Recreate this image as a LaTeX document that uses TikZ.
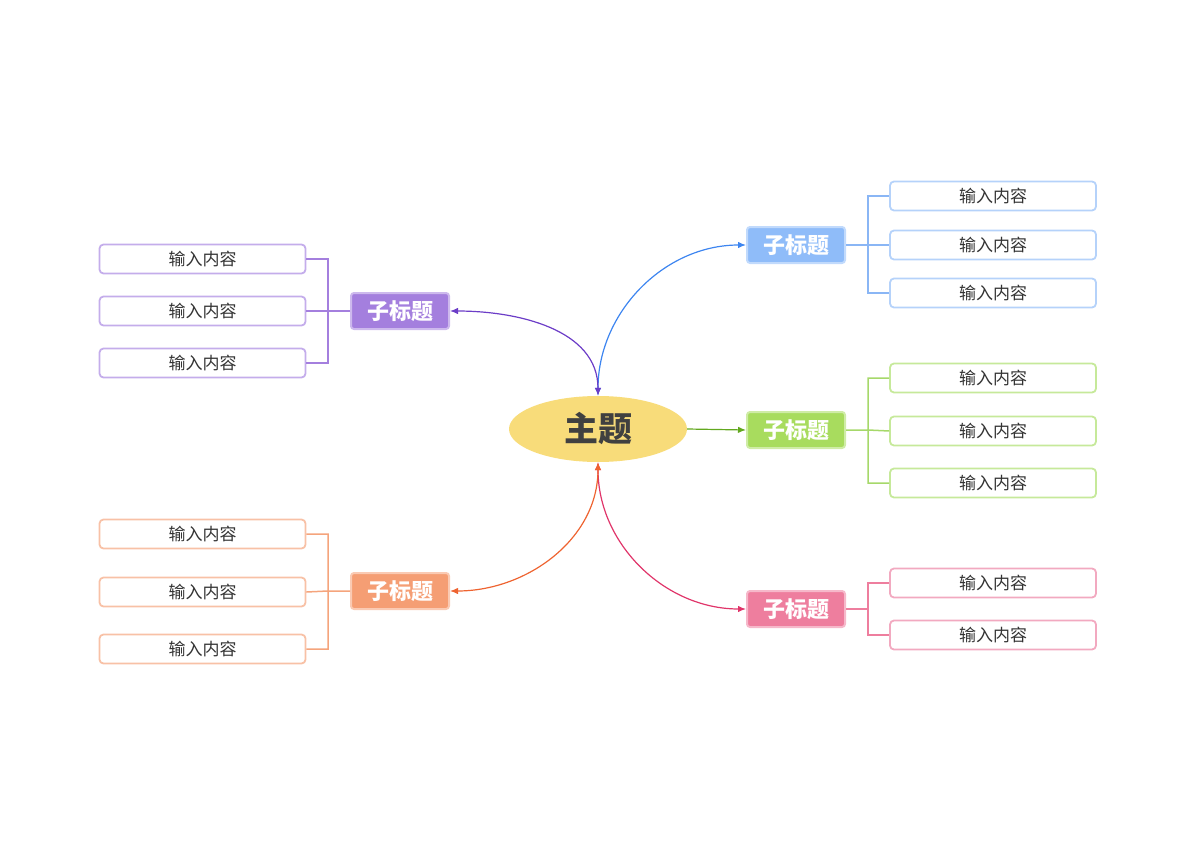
\documentclass[tikz,border=0pt]{standalone}
\usepackage{fontspec}
\setmainfont{Noto Sans CJK SC}
\usetikzlibrary{shapes.geometric,arrows.meta}
\definecolor{bF}{HTML}{8FBCF9}\definecolor{bA}{HTML}{3D85F0}\definecolor{bL}{HTML}{B5D2FA}\definecolor{bB}{HTML}{8AB6F5}
\definecolor{gF}{HTML}{A8DC5E}\definecolor{gA}{HTML}{62A81F}\definecolor{gL}{HTML}{C6E99A}\definecolor{gB}{HTML}{A6D86A}
\definecolor{pF}{HTML}{EE7E9E}\definecolor{pA}{HTML}{E0356A}\definecolor{pL}{HTML}{F2A9C0}\definecolor{pB}{HTML}{EE7E9E}
\definecolor{uF}{HTML}{A47FDE}\definecolor{uA}{HTML}{6C3DC7}\definecolor{uL}{HTML}{C4ADEB}\definecolor{uB}{HTML}{A47FDE}
\definecolor{oF}{HTML}{F59E74}\definecolor{oA}{HTML}{EE6330}\definecolor{oL}{HTML}{F8C1A6}\definecolor{oB}{HTML}{F5A47C}
\definecolor{mainF}{HTML}{F8DC7A}
\tikzset{
 sub/.style={draw=#1!55!white,fill=#1,line width=2pt,rounded corners=3pt,minimum width=98pt,minimum height=36pt,text=white,font=\fontsize{22}{22}\selectfont\bfseries,inner sep=0pt},
 leaf/.style={draw=#1,fill=white,line width=1.8pt,rounded corners=4pt,minimum width=206pt,minimum height=29pt,text=black!80,font=\fontsize{17}{17}\selectfont,inner sep=0pt},
 br/.style={draw=#1,line width=1.5pt},
 tip/.style={{Latex[length=8pt,width=6.5pt]}},
 con/.style={draw=#1,line width=1.2pt}
}
\begin{document}
\begin{tikzpicture}[x=1pt,y=-1pt]
\useasboundingbox (0,0) rectangle (1200,848);
\node[ellipse,fill=mainF,minimum width=178pt,minimum height=66pt,inner sep=0pt,text=black!75,font=\fontsize{34}{34}\selectfont\bfseries] (m) at (598,429) {主题};
\node[sub=bF] (b) at (796,245) {子标题};
\node[sub=gF] (g) at (796,430) {子标题};
\node[sub=pF] (p) at (796,609) {子标题};
\node[sub=uF] (u) at (400,311) {子标题};
\node[sub=oF] (o) at (400,591) {子标题};
\foreach \n/\y in {1/196,2/245,3/293}{\node[leaf=bL] (b\n) at (993,\y) {输入内容};}
\foreach \n/\y in {1/378,2/431,3/483}{\node[leaf=gL] (g\n) at (993,\y) {输入内容};}
\foreach \n/\y in {1/583,2/635}{\node[leaf=pL] (p\n) at (993,\y) {输入内容};}
\foreach \n/\y in {1/259,2/311,3/363}{\node[leaf=uL] (u\n) at (202.5,\y) {输入内容};}
\foreach \n/\y in {1/534,2/592,3/649}{\node[leaf=oL] (o\n) at (202.5,\y) {输入内容};}
% brackets
\draw[br=bB] (b.east) -- (868,245) (b1.west) -| (868,293) -- (b3.west) (868,245) -- (b2.west);
\draw[br=gB] (g.east) -- (868,430) (g1.west) -| (868,483) -- (g3.west) (868,430) -- (g2.west);
\draw[br=pB] (p.east) -- (868,609) (p1.west) -| (868,635) -- (p2.west);
\draw[br=uB] (u.west) -- (328,311) (u1.east) -| (328,363) -- (u3.east) (328,311) -- (u2.east);
\draw[br=oB] (o.west) -- (328,591) (o1.east) -| (328,649) -- (o3.east) (328,591) -- (o2.east);
% connectors
\draw[con=bA,{Latex[length=8pt,width=6.5pt]}-{Latex[length=8pt,width=6.5pt]}] (m.north) to[out=90,in=180] (b.west);
\draw[con=gA,-{Latex[length=8pt,width=6.5pt]}] (m.east) -- (g.west);
\draw[con=pA,{Latex[length=8pt,width=6.5pt]}-{Latex[length=8pt,width=6.5pt]}] (m.south) to[out=-90,in=180] (p.west);
\draw[con=uA,{Latex[length=8pt,width=6.5pt]}-{Latex[length=8pt,width=6.5pt]}] (m.north) to[out=90,in=0] (u.east);
\draw[con=oA,{Latex[length=8pt,width=6.5pt]}-{Latex[length=8pt,width=6.5pt]}] (m.south) to[out=-90,in=0] (o.east);
\end{tikzpicture}
\end{document}
